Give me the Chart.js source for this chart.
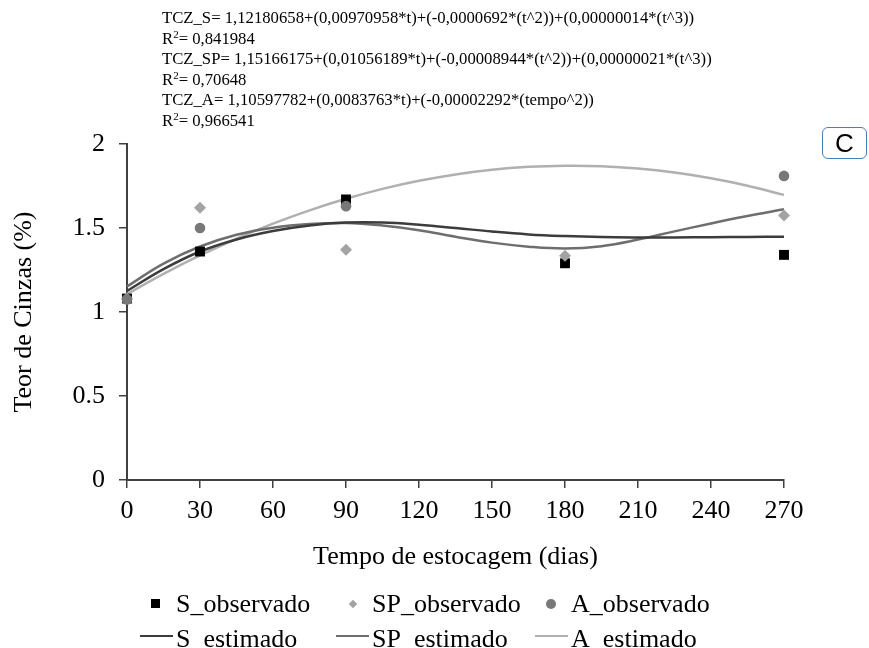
<!DOCTYPE html>
<html>
<head>
<meta charset="utf-8">
<script src="https://cdn.jsdelivr.net/npm/chart.js@4.4.1/dist/chart.umd.min.js"></script>
<style>
  html, body { margin: 0; padding: 0; background: #fff; }
  #wrap { position: relative; width: 869px; height: 648px; overflow: hidden; }
  #chart { position: absolute; left: 0; top: 0; }
  #eq { position: absolute; left: 162px; top: 8px; font: 16.7px "Liberation Serif", serif; line-height: 20.6px; color: #000; white-space: nowrap; }
  #eq sup { font-size: 11px; vertical-align: 6px; line-height: 0; }
  #tag { position: absolute; left: 822px; top: 127px; width: 43px; height: 30px; border: 1.5px solid #4a7ebb; border-radius: 6px;
         font: 26px "Liberation Sans", sans-serif; text-align: center; line-height: 30px; color: #000; }
  .lg { position: absolute; font: 26px "Liberation Serif", serif; color: #000; white-space: nowrap; line-height: 30px; }
  .mk { position: absolute; }
</style>
</head>
<body>
<div id="wrap">
  <canvas id="chart" width="869" height="648"></canvas>
  <div id="eq">
    TCZ_S= 1,12180658+(0,00970958*t)+(-0,0000692*(t^2))+(0,00000014*(t^3))<br>
    R<sup>2</sup>= 0,841984<br>
    TCZ_SP= 1,15166175+(0,01056189*t)+(-0,00008944*(t^2))+(0,00000021*(t^3))<br>
    R<sup>2</sup>= 0,70648<br>
    TCZ_A= 1,10597782+(0,0083763*t)+(-0,00002292*(tempo^2))<br>
    R<sup>2</sup>= 0,966541
  </div>
  <div id="tag">C</div>
</div>
<script>
// observed values (days of storage)
const days = [0, 30, 90, 180, 270];
const sObs = [1.08, 1.36, 1.67, 1.29, 1.34];
const spObs = [1.08, 1.62, 1.37, 1.335, 1.575];
const aObs = [1.075, 1.50, 1.63, null, 1.81];

// fitted curves, every 15 days
const fitDays = [0, 15, 30, 45, 60, 75, 90, 105, 120, 135, 150, 165, 180, 195, 210, 225, 240, 255, 270];
const sEst = [1.125, 1.255, 1.360, 1.432, 1.482, 1.515, 1.532, 1.532, 1.519, 1.500, 1.479, 1.462, 1.452, 1.446, 1.444, 1.444, 1.445, 1.447, 1.448];
const spEst = [1.152, 1.288, 1.390, 1.460, 1.502, 1.524, 1.530, 1.515, 1.487, 1.448, 1.413, 1.389, 1.378, 1.392, 1.431, 1.480, 1.527, 1.571, 1.611];
const aEst = [1.106, 1.227, 1.337, 1.436, 1.526, 1.605, 1.674, 1.733, 1.781, 1.819, 1.847, 1.864, 1.871, 1.868, 1.854, 1.830, 1.796, 1.752, 1.697];

const xTicks = [0, 30, 60, 90, 120, 150, 180, 210, 240, 270];
const yTicks = [0, 0.5, 1, 1.5, 2];
const yTickLabels = ['0', '0.5', '1', '1.5', '2'];

const labels = ['S_observado', 'SP_observado', 'A_observado', 'S_estimado', 'SP_estimado', 'A_estimado'];

const pts = (xs, ys) => xs.map((x, i) => ({ x: x, y: ys[i] })).filter(p => p.y !== null);

const serif = 'Liberation Serif';
const axisColor = '#404040';

const obs = (label, ys, style, color, r, order) => ({
  label: label, data: pts(days, ys), showLine: false,
  pointStyle: style, pointRadius: r, pointHoverRadius: r,
  backgroundColor: color, borderColor: color, pointBorderWidth: 0,
  order: order, clip: false
});
const est = (label, ys, color, order) => ({
  label: label, data: pts(fitDays, ys), showLine: true,
  borderColor: color, backgroundColor: color, borderWidth: 2.5,
  pointRadius: 0, tension: 0.4, fill: false, order: order, clip: false
});

const chart = new Chart(document.getElementById('chart').getContext('2d'), {
  type: 'scatter',
  data: {
    datasets: [
      obs(labels[0], sObs, 'rect', '#000000', 7, 2),
      obs(labels[1], spObs, 'rectRot', '#a3a3a3', 6, 1),
      obs(labels[2], aObs, 'circle', '#787878', 5.3, 0),
      est(labels[3], sEst, '#3c3c3c', 3),
      est(labels[4], spEst, '#6e6e6e', 4),
      est(labels[5], aEst, '#b0b0b0', 5)
    ]
  },
  options: {
    responsive: false,
    animation: false,
    devicePixelRatio: 1,
    layout: { padding: { left: 0, right: 85, top: 144, bottom: 75 } },
    plugins: { legend: { display: false }, tooltip: { enabled: false } },
    scales: {
      x: {
        type: 'linear', min: 0, max: 270,
        afterBuildTicks: s => { s.ticks = xTicks.map(v => ({ value: v })); },
        afterFit: s => { s.height = 93; },
        ticks: { color: '#000', font: { family: serif, size: 26 }, padding: 8, maxRotation: 0, autoSkip: false },
        grid: { display: true, drawOnChartArea: false, drawTicks: true, tickLength: 8, color: axisColor, lineWidth: 1.5 },
        border: { display: true, color: axisColor, width: 2 },
        title: { display: true, text: 'Tempo de estocagem (dias)', color: '#000', font: { family: serif, size: 26 }, padding: 0 }
      },
      y: {
        type: 'linear', min: 0, max: 2,
        afterBuildTicks: s => { s.ticks = yTicks.map(v => ({ value: v })); },
        afterFit: s => { s.width = 127; },
        ticks: { color: '#000', font: { family: serif, size: 26 }, padding: 14,
                 callback: v => yTickLabels[yTicks.indexOf(v)] },
        grid: { display: true, drawOnChartArea: false, drawTicks: true, tickLength: 8, color: axisColor, lineWidth: 1.5 },
        border: { display: true, color: axisColor, width: 2 },
        title: { display: true, text: 'Teor de Cinzas (%)', color: '#000', font: { family: serif, size: 26 }, padding: { top: 9, bottom: 0 } }
      }
    }
  }
});

// legend below the plot, two rows of three
const legendCols = [176, 372, 571];
const legendRows = [603.5, 639];
const wrap = document.getElementById('wrap');
chart.data.datasets.forEach((ds, i) => {
  const cy = legendRows[Math.floor(i / 3)];
  const tx = legendCols[i % 3];
  const mk = document.createElement('div');
  mk.className = 'mk';
  if (ds.showLine) {
    Object.assign(mk.style, { left: (tx - 36) + 'px', top: (cy - 4.25) + 'px', width: '33px', height: '2.5px', background: ds.borderColor });
  } else if (ds.pointStyle === 'rect') {
    Object.assign(mk.style, { left: (tx - 25.5) + 'px', top: (cy - 4.5) + 'px', width: '9px', height: '9px', background: ds.backgroundColor });
  } else if (ds.pointStyle === 'rectRot') {
    Object.assign(mk.style, { left: (tx - 22) + 'px', top: (cy - 3) + 'px', width: '6px', height: '6px', background: ds.backgroundColor, transform: 'rotate(45deg)' });
  } else {
    Object.assign(mk.style, { left: (tx - 25) + 'px', top: (cy - 5) + 'px', width: '10px', height: '10px', borderRadius: '50%', background: ds.backgroundColor });
  }
  wrap.appendChild(mk);
  const t = document.createElement('div');
  t.className = 'lg';
  t.style.left = tx + 'px';
  t.style.top = (cy - 15) + 'px';
  t.textContent = ds.label;
  wrap.appendChild(t);
});
</script>
</body>
</html>
